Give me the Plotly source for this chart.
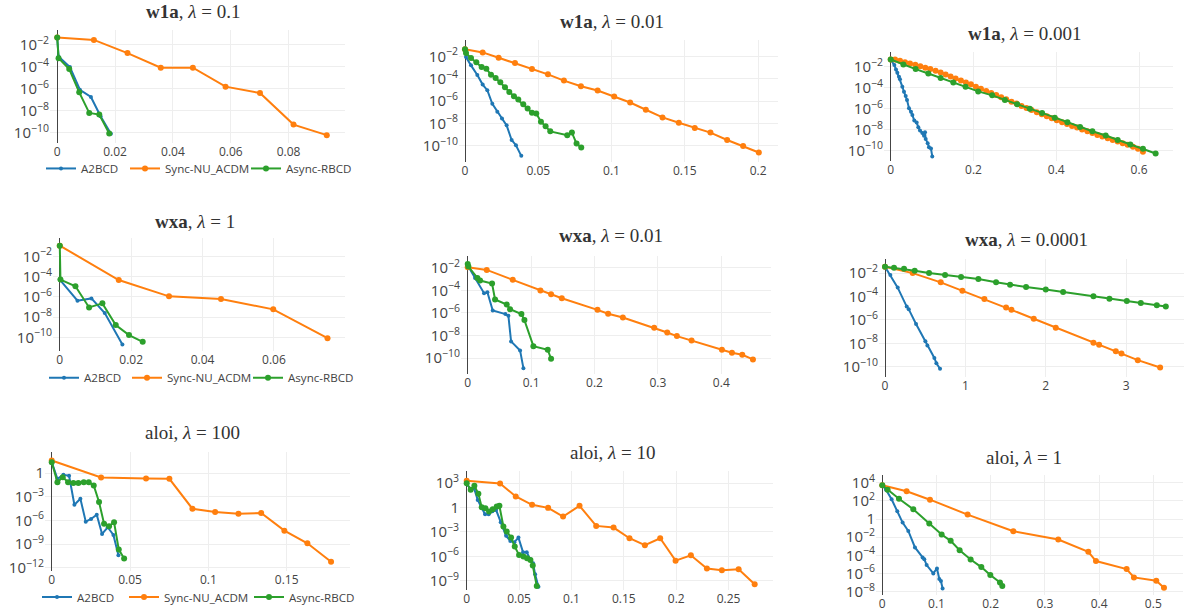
import plotly.graph_objects as go

W, H = 1184, 612
BLUE, ORANGE, GREEN = "#1f77b4", "#ff7f0e", "#2ca02c"
NAMES = ["A2BCD", "Sync-NU_ACDM", "Async-RBCD"]

# ---------------- data (x = time, y given as log10 of value) ----------------
# Panel 1: w1a, lambda = 0.1
p1_a_x = [0, 0.00046, 0.00438, 0.00784, 0.01165, 0.01499, 0.01856]
p1_a_y = [-1.34, -3.06, -4.02, -6.08, -6.74, -8.49, -10.09]
p1_s_x = [0, 0.01268, 0.0243, 0.0358, 0.0469, 0.0582, 0.0701, 0.0817, 0.0932]
p1_s_y = [-1.34, -1.55, -2.75, -4.08, -4.08, -5.80, -6.38, -9.25, -10.21]
p1_r_x = [0, 0.00046, 0.00415, 0.00761, 0.01107, 0.01453, 0.01799]
p1_r_y = [-1.34, -3.21, -4.20, -6.32, -8.19, -8.34, -10.06]

# Panel 2: w1a, lambda = 0.01
p2_a_x = [0, 0.00068, 0.00409, 0.00841, 0.01205, 0.01523, 0.01864, 0.02205, 0.02523, 0.02841, 0.03182, 0.03477, 0.03841]
p2_a_y = [-1.35, -2.06, -2.80, -3.66, -4.52, -5.02, -6.24, -6.95, -7.54, -8.16, -9.47, -9.94, -10.89]
p2_s_x = [0, 0.01205, 0.02296, 0.0341, 0.0457, 0.0566, 0.0675, 0.0791, 0.0905, 0.1018, 0.1127, 0.1234, 0.1348, 0.1459, 0.1568, 0.1675, 0.1789, 0.1898, 0.2005]
p2_s_y = [-1.35, -1.64, -2.12, -2.59, -3.13, -3.60, -4.16, -4.67, -5.05, -5.59, -6.12, -6.77, -7.45, -7.93, -8.40, -8.81, -9.47, -10.0, -10.59]
p2_r_x = [0, 0.00068, 0.00409, 0.00773, 0.01136, 0.01455, 0.01773, 0.02091, 0.02409, 0.02727, 0.03023, 0.03341, 0.03636, 0.03977, 0.04273, 0.0457, 0.04864, 0.05182, 0.055, 0.05818, 0.06977, 0.07295, 0.07614, 0.07932]
p2_r_y = [-1.35, -1.70, -2.15, -2.53, -2.95, -3.10, -3.63, -3.93, -4.31, -4.76, -5.17, -5.56, -5.85, -6.27, -6.65, -7.04, -7.10, -7.84, -8.25, -8.70, -9.05, -8.81, -9.79, -10.15]

# Panel 3: w1a, lambda = 0.001
p3_a_x = [0, 0.0088, 0.0128, 0.0160, 0.0200, 0.0224, 0.0281, 0.0321, 0.0362, 0.0394, 0.0442, 0.0490, 0.0523, 0.0570, 0.0627, 0.0667, 0.0708, 0.0764, 0.0805, 0.0829, 0.0845, 0.0893, 0.0925, 0.0973, 0.1004]
p3_a_y = [-1.30, -1.84, -2.25, -2.57, -2.95, -3.20, -3.90, -4.38, -4.79, -5.17, -5.96, -6.29, -6.60, -7.14, -7.33, -7.77, -8.10, -8.34, -8.60, -8.25, -8.91, -9.30, -9.68, -9.81, -10.57]
p3_s_x = [0, 0.0105, 0.0225, 0.0346, 0.0466, 0.0595, 0.0716, 0.0836, 0.0957, 0.1085, 0.1206, 0.1327, 0.1447, 0.1568, 0.1696, 0.1817, 0.1938, 0.2058, 0.2179, 0.2307, 0.2428, 0.2549, 0.2669, 0.2790, 0.2919, 0.3039, 0.3160, 0.3280, 0.3401, 0.3530, 0.3650, 0.3771, 0.3891, 0.4012, 0.4141, 0.4261, 0.4382, 0.4502, 0.4623, 0.4752, 0.4872, 0.4993, 0.5113, 0.5242, 0.5363, 0.5483, 0.5604, 0.5724, 0.5853, 0.5974, 0.6094]
p3_s_y = [-1.30, -1.30, -1.43, -1.56, -1.68, -1.81, -1.94, -2.10, -2.22, -2.38, -2.54, -2.73, -2.92, -3.11, -3.30, -3.49, -3.68, -3.91, -4.10, -4.32, -4.51, -4.70, -4.92, -5.11, -5.33, -5.52, -5.75, -5.94, -6.13, -6.35, -6.54, -6.73, -6.92, -7.11, -7.30, -7.46, -7.65, -7.81, -8.00, -8.16, -8.32, -8.51, -8.67, -8.83, -8.99, -9.14, -9.30, -9.46, -9.65, -9.84, -10.13]
p3_r_x = [0, 0.0306, 0.0603, 0.0909, 0.1206, 0.1512, 0.1809, 0.2114, 0.2452, 0.2758, 0.3055, 0.3361, 0.3658, 0.3964, 0.4269, 0.4575, 0.4872, 0.5194, 0.5483, 0.5789, 0.6094, 0.6400]
p3_r_y = [-1.30, -1.78, -2.22, -2.64, -3.08, -3.49, -3.91, -4.35, -4.73, -5.18, -5.59, -6.00, -6.41, -6.86, -7.30, -7.75, -8.16, -8.57, -8.99, -9.43, -9.84, -10.29]

# Panel 4: wxa, lambda = 1
p4_a_x = [0, 0.00495, 0.00886, 0.0126, 0.01754]
p4_a_y = [-4.30, -6.38, -6.15, -7.60, -10.69]
p4_s_x = [0, 0.01652, 0.0306, 0.04516, 0.0598, 0.0750]
p4_s_y = [-0.95, -4.34, -5.95, -6.21, -7.23, -10.07]
p4_r_x = [0, 0.00019, 0.00439, 0.00821, 0.01194, 0.01568, 0.0194, 0.02323]
p4_r_y = [-0.95, -4.30, -4.96, -7.04, -6.64, -8.78, -9.77, -10.43]

# Panel 5: wxa, lambda = 0.01
p5_a_x = [0, 0.01157, 0.02577, 0.03103, 0.03945, 0.05944, 0.06418, 0.06839, 0.08259, 0.08785]
p5_a_y = [-1.79, -2.89, -4.24, -4.16, -5.78, -6.10, -6.25, -8.52, -9.32, -10.89]
p5_s_x = [0, 0.030, 0.0710, 0.1147, 0.1315, 0.1484, 0.2047, 0.2215, 0.2447, 0.2941, 0.3147, 0.3299, 0.3531, 0.4010, 0.4168, 0.4331, 0.4499]
p5_s_y = [-1.94, -2.18, -3.06, -4.01, -4.33, -4.69, -5.72, -6.07, -6.40, -7.31, -7.73, -8.05, -8.44, -9.26, -9.53, -9.71, -10.12]
p5_r_x = [0, 0.00105, 0.01525, 0.01946, 0.0384, 0.04313, 0.06154, 0.0668, 0.08469, 0.08943, 0.1036, 0.1262, 0.1315]
p5_r_y = [-1.65, -1.88, -2.89, -3.12, -3.39, -4.80, -5.25, -5.66, -6.10, -6.63, -8.94, -9.26, -10.06]

# Panel 6: wxa, lambda = 0.0001
p6_a_x = [0, 0.0664, 0.1577, 0.2697, 0.2946, 0.3859, 0.5020, 0.5269, 0.6141, 0.6390, 0.6846]
p6_a_y = [-1.46, -2.17, -3.24, -4.86, -5.08, -6.35, -7.82, -8.19, -9.24, -9.69, -10.17]
p6_s_x = [0, 0.3444, 0.6929, 0.9626, 1.2364, 1.5061, 1.5725, 1.8505, 2.1243, 2.5934, 2.6639, 2.8714, 2.9419, 3.1450, 3.4230]
p6_s_y = [-1.46, -2.0, -2.79, -3.50, -4.21, -4.94, -5.14, -5.90, -6.66, -7.94, -8.11, -8.67, -8.87, -9.43, -10.06]
p6_r_x = [0, 0.112, 0.2365, 0.3693, 0.5477, 0.7468, 0.946, 1.1617, 1.3816, 1.5559, 1.755, 2.0, 2.2158, 2.5934, 2.7925, 3.0083, 3.1826, 3.3817, 3.4937]
p6_r_y = [-1.46, -1.55, -1.63, -1.80, -2.0, -2.17, -2.34, -2.51, -2.79, -2.99, -3.19, -3.41, -3.61, -3.98, -4.18, -4.38, -4.55, -4.74, -4.86]

# Panel 7: aloi, lambda = 100
p7_a_x = [0, 0.00362, 0.00745, 0.01107, 0.01447, 0.0183, 0.02171, 0.02511, 0.02873, 0.03213, 0.03575, 0.03937, 0.04256]
p7_a_y = [1.39, -0.72, -0.21, -0.34, -4.0, -3.24, -6.15, -5.81, -5.26, -7.71, -6.86, -7.83, -10.40]
p7_s_x = [0, 0.0315, 0.0602, 0.0751, 0.0898, 0.1043, 0.1192, 0.1337, 0.1485, 0.1632, 0.1783]
p7_s_y = [1.60, -0.55, -0.67, -0.72, -4.51, -4.93, -5.14, -5.05, -7.29, -8.89, -11.24]
p7_r_x = [0, 0.00362, 0.00702, 0.01043, 0.01383, 0.01702, 0.02043, 0.02362, 0.02681, 0.0302, 0.0334, 0.0366, 0.0398, 0.0428, 0.0462]
p7_r_y = [1.39, -1.14, -0.51, -1.14, -1.26, -1.26, -1.14, -1.14, -1.56, -3.66, -6.40, -6.74, -6.23, -9.69, -10.82]

# Panel 8: aloi, lambda = 10
p8_a_x = [0, 0.00382, 0.00701, 0.0105, 0.0140, 0.0175, 0.0210, 0.0245, 0.0280, 0.0325, 0.0376, 0.0417, 0.0455, 0.0494, 0.0538, 0.0573, 0.0605, 0.0634, 0.0653, 0.0685]
p8_a_y = [2.88, 2.26, 2.38, 0.94, 0.04, -0.82, -0.82, -0.45, -0.29, -1.81, -3.49, -4.11, -4.27, -3.70, -5.51, -5.51, -6.33, -6.87, -8.22, -9.74]
p8_s_x = [0, 0.03185, 0.04682, 0.06242, 0.07771, 0.0920, 0.1077, 0.1236, 0.1402, 0.1554, 0.1701, 0.1847, 0.1994, 0.2140, 0.2293, 0.2436, 0.2596, 0.2749]
p8_s_y = [3.29, 2.96, 1.36, 0.33, -0.04, -1.11, 0.21, -2.26, -2.47, -3.78, -4.64, -3.78, -6.54, -5.88, -7.52, -7.73, -7.60, -9.45]
p8_r_x = [0, 0.00382, 0.00733, 0.01115, 0.01433, 0.01784, 0.02134, 0.02484, 0.02867, 0.03121, 0.03503, 0.03822, 0.04236, 0.04586, 0.05, 0.05415, 0.05765, 0.06083, 0.06306, 0.06689]
p8_r_y = [3.0, 2.18, 2.67, 1.68, 0.04, -0.08, -0.49, -0.21, 0.12, 0.21, -2.34, -2.96, -3.70, -4.81, -5.84, -6.04, -6.25, -6.45, -7.15, -9.66]

# Panel 9: aloi, lambda = 1
p9_a_x = [0, 0.00677, 0.0172, 0.0277, 0.0375, 0.0480, 0.0603, 0.0744, 0.0775, 0.0818, 0.0941, 0.1009, 0.1052, 0.1082, 0.1113]
p9_a_y = [3.71, 3.23, 2.17, 0.85, -0.39, -1.31, -3.13, -4.23, -4.42, -5.07, -5.99, -5.44, -6.61, -6.83, -7.64]
p9_s_x = [0, 0.0449, 0.0880, 0.1574, 0.2417, 0.3247, 0.3801, 0.3942, 0.4508, 0.4643, 0.5055, 0.5197]
p9_s_y = [3.71, 3.05, 2.13, 0.49, -1.34, -2.26, -3.61, -4.63, -5.51, -6.43, -6.79, -7.56]
p9_r_x = [0, 0.00984, 0.0308, 0.0572, 0.0867, 0.1095, 0.1261, 0.1427, 0.1630, 0.1827, 0.1993, 0.2171, 0.2214]
p9_r_y = [3.71, 3.23, 2.24, 1.07, -0.50, -1.71, -2.40, -3.43, -4.45, -5.29, -6.17, -6.98, -7.38]

titles = ["<b>w1a</b>, <i>λ</i> = 0.1", "<b>w1a</b>, <i>λ</i> = 0.01", "<b>w1a</b>, <i>λ</i> = 0.001",
          "<b>wxa</b>, <i>λ</i> = 1", "<b>wxa</b>, <i>λ</i> = 0.01", "<b>wxa</b>, <i>λ</i> = 0.0001",
          "aloi, <i>λ</i> = 100", "aloi, <i>λ</i> = 10", "aloi, <i>λ</i> = 1"]

series = [
    (p1_a_x, p1_a_y, p1_s_x, p1_s_y, p1_r_x, p1_r_y),
    (p2_a_x, p2_a_y, p2_s_x, p2_s_y, p2_r_x, p2_r_y),
    (p3_a_x, p3_a_y, p3_s_x, p3_s_y, p3_r_x, p3_r_y),
    (p4_a_x, p4_a_y, p4_s_x, p4_s_y, p4_r_x, p4_r_y),
    (p5_a_x, p5_a_y, p5_s_x, p5_s_y, p5_r_x, p5_r_y),
    (p6_a_x, p6_a_y, p6_s_x, p6_s_y, p6_r_x, p6_r_y),
    (p7_a_x, p7_a_y, p7_s_x, p7_s_y, p7_r_x, p7_r_y),
    (p8_a_x, p8_a_y, p8_s_x, p8_s_y, p8_r_x, p8_r_y),
    (p9_a_x, p9_a_y, p9_s_x, p9_s_y, p9_r_x, p9_r_y),
]

# ---------------- layout geometry (pixels) ----------------
areas = [(50, 345, 30, 143), (459, 778, 40, 163), (884, 1173, 52, 162),
         (53, 345, 239, 352), (461, 771, 257, 375), (879, 1184, 260, 378),
         (45, 350, 453, 573), (460, 773, 473, 592), (876, 1183, 477, 597)]
xranges = [(-0.0025, 0.0995), (-0.0041, 0.2136), (-0.0162, 0.682),
           (-0.0019, 0.0799), (-0.0106, 0.4784), (-0.075, 3.72),
           (-0.0043, 0.1904), (-0.0064, 0.2924), (-0.0116, 0.5548)]
yranges = [(-10.88, -0.64), (-11.48, -0.52), (-11.05, -0.57),
           (-11.32, -0.22), (-11.39, -0.96), (-10.85, -0.81),
           (-12.42, 2.74), (-10.16, 4.44), (-8.37, 4.80)]
xdticks = [0.02, 0.05, 0.2, 0.02, 0.1, 1, 0.05, 0.05, 0.1]
ydticks = [2, 2, 2, 2, 2, 2, 3, 3, 2]
title_pos = [(193, 12), (612, 22), (1024, 34), (195, 222), (611, 236), (1026, 240),
             (192, 434), (612, 454), (1024, 459)]
# one legend per entry, for the panels that show a legend: (x of legend, y centre) per series
legend_spots = {0: [(41, 169), (125, 169), (246, 169)],
                3: [(44, 379), (127, 379), (248, 379)],
                6: [(37, 599), (124, 599), (249, 599)]}

fig = go.Figure()
layout = dict(width=W, height=H, margin=dict(l=0, r=0, t=0, b=0),
              template="none", paper_bgcolor="white", plot_bgcolor="white",
              font=dict(family="Open Sans, verdana, arial, sans-serif", size=12, color="#444"),
              annotations=[])

leg_count = 0
for i in range(9):
    ax_id = "" if i == 0 else str(i + 1)
    l, r, t, b = areas[i]
    layout["xaxis" + ax_id] = dict(domain=[l / W, r / W], range=list(xranges[i]), dtick=xdticks[i],
                                   anchor="y" + ax_id, showgrid=True, gridcolor="#eee",
                                   zeroline=True, zerolinecolor="#444", zerolinewidth=1,
                                   showline=False, ticks="", tickfont=dict(size=12, color="#444"))
    layout["yaxis" + ax_id] = dict(domain=[1 - b / H, 1 - t / H], type="log", range=list(yranges[i]),
                                   dtick=ydticks[i], exponentformat="power", anchor="x" + ax_id,
                                   showgrid=True, gridcolor="#eee", showline=False, ticks="",
                                   tickfont=dict(size=12, color="#444"))
    ax_, ay_, sx_, sy_, rx_, ry_ = series[i]
    for k, (name, xs, ys, col, ms) in enumerate([(NAMES[0], ax_, ay_, BLUE, 4), (NAMES[1], sx_, sy_, ORANGE, 6),
                                                 (NAMES[2], rx_, ry_, GREEN, 6)]):
        show = i in legend_spots
        leg_name = "legend"
        if show:
            leg_count += 1
            leg_name = "legend" if leg_count == 1 else "legend%d" % leg_count
            lx, ly = legend_spots[i][k]
            layout[leg_name] = dict(x=lx / W, y=1 - ly / H, xanchor="left", yanchor="middle",
                                    orientation="h", bgcolor="rgba(0,0,0,0)",
                                    font=dict(size=11.6, color="#444"))
        fig.add_trace(go.Scatter(
            x=xs, y=[10 ** v for v in ys], mode="lines+markers", name=name,
            line=dict(color=col, width=2), marker=dict(color=col, size=ms),
            xaxis="x" + ax_id, yaxis="y" + ax_id,
            showlegend=show, legend=leg_name))
    tx, ty = title_pos[i]
    layout["annotations"].append(dict(text=titles[i], x=tx / W, y=1 - ty / H, xref="paper", yref="paper",
                                      xanchor="center", yanchor="middle", showarrow=False,
                                      font=dict(family="Liberation Serif, DejaVu Serif, serif", size=19, color="#333")))

fig.update_layout(**layout)
fig.write_html("out.html", config={"displayModeBar": False},
               post_script="document.body.style.margin='0';")
